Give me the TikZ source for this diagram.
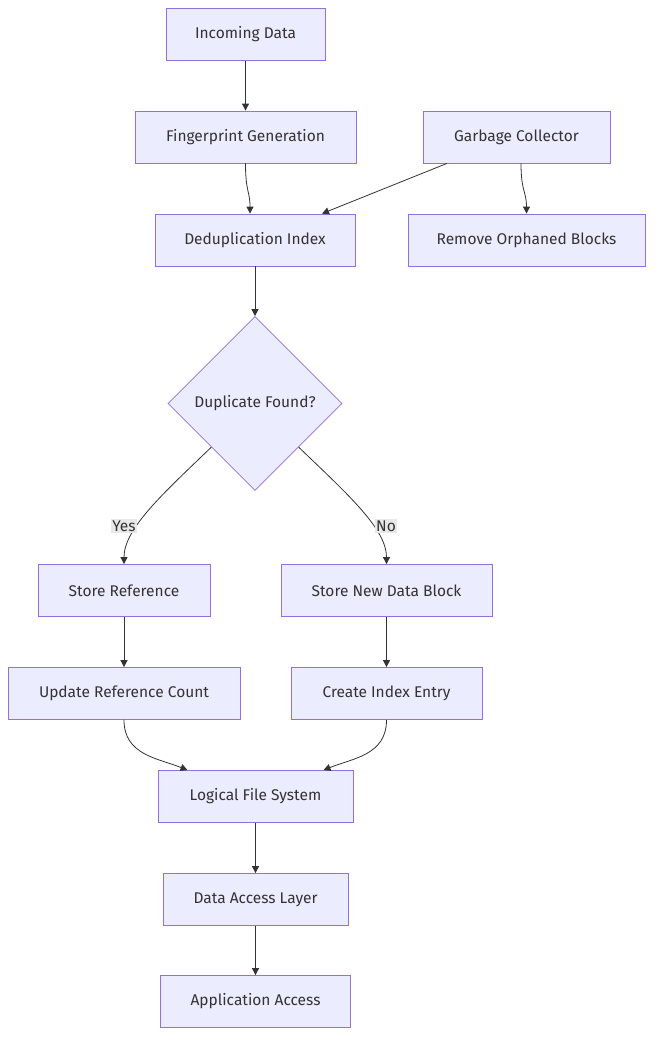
\documentclass[tikz,border=0pt]{standalone}
\usepackage{fontspec}
\setmainfont{Fira Sans}
\usetikzlibrary{shapes.geometric,arrows.meta}
\definecolor{boxfill}{HTML}{ECECFF}
\definecolor{boxline}{HTML}{9370DB}
\definecolor{edge}{HTML}{333333}
\definecolor{lblbg}{HTML}{E8E8E8}
\tikzset{
  box/.style={draw=boxline, fill=boxfill, line width=0.8pt, text=edge, font=\fontsize{15.5}{18}\selectfont, minimum height=52pt, inner sep=0pt},
  dec/.style={diamond, draw=boxline, fill=boxfill, line width=0.8pt, text=edge, font=\fontsize{15.5}{18}\selectfont, minimum size=174pt, inner sep=0pt, aspect=1},
  conn/.style={draw=edge, line width=0.8pt, -{Triangle[length=7pt,width=7pt]}},
  lbl/.style={fill=lblbg, text=edge, font=\fontsize{15.5}{18}\selectfont, inner sep=1.5pt},
}
\begin{document}
\begin{tikzpicture}[x=1pt,y=-1pt]
\useasboundingbox (0,0) rectangle (661,1049);
\node[box, minimum width=159pt] (inc) at (245.5,34.5) {Incoming Data};
\node[box, minimum width=221pt] (fp) at (245.5,137) {Fingerprint Generation};
\node[box, minimum width=187pt] (gc) at (516.5,137) {Garbage Collector};
\node[box, minimum width=200pt] (dd) at (255,240) {Deduplication Index};
\node[box, minimum width=237pt] (rob) at (526.5,240) {Remove Orphaned Blocks};
\node[dec] (dup) at (255,403.5) {Duplicate Found?};
\node[box, minimum width=172pt] (sr) at (124,590.5) {Store Reference};
\node[box, minimum width=211pt] (sn) at (386.5,590.5) {Store New Data Block};
\node[box, minimum width=232pt] (urc) at (124,693.5) {Update Reference Count};
\node[box, minimum width=191pt] (cie) at (386.5,693.5) {Create Index Entry};
\node[box, minimum width=195pt] (lfs) at (255.5,796.5) {Logical File System};
\node[box, minimum width=185pt] (dal) at (255.5,899.5) {Data Access Layer};
\node[box, minimum width=190pt] (aa) at (255.5,1001.5) {Application Access};

\draw[conn] (inc.south) -- (fp.north);
\draw[conn] (fp.south) .. controls +(0,28) and +(0,-22) .. ([xshift=-5pt]dd.north);
\draw[conn] ([xshift=-69.5pt]gc.south) -- ([xshift=67pt]dd.north);
\draw[conn] ([xshift=4.5pt]gc.south) .. controls +(0,28) and +(0,-22) .. ([xshift=0pt]rob.north);
\draw[conn] (dd.south) -- (dup.north);
\draw[conn] (dup.south west) .. controls +(-50,48) and +(0,-35) .. (sr.north);
\draw[conn] (dup.south east) .. controls +(50,48) and +(0,-35) .. (sn.north);
\node[lbl] (yes) at (124,526) {Yes};
\node[lbl] (no) at (386,526) {No};
\draw[conn] (sr.south) -- (urc.north);
\draw[conn] (sn.south) -- (cie.north);
\draw[conn] (urc.south) .. controls +(0,35) and +(-30,-12) .. ([xshift=-68pt]lfs.north);
\draw[conn] (cie.south) .. controls +(0,35) and +(30,-12) .. ([xshift=68pt]lfs.north);
\draw[conn] (lfs.south) -- (dal.north);
\draw[conn] (dal.south) -- (aa.north);
\end{tikzpicture}
\end{document}
